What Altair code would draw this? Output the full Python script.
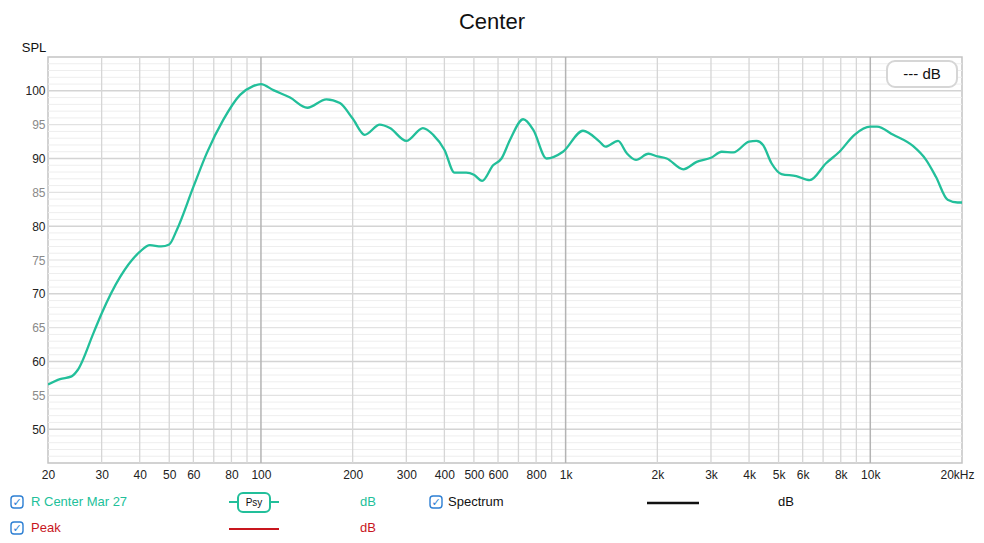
import altair as alt
import pandas as pd

# ---------------- data ----------------
freq_hz = [20, 21.9, 23.9, 25, 28.2, 30, 34.5, 40, 43.2, 47, 50, 52.9, 60, 66.4, 75.2, 85.4,
           94.2, 100, 109.8, 124.6, 142, 164, 181.6, 200, 219, 245.6, 265, 300, 340, 367.6,
           400, 432, 472, 500, 532, 578, 616, 656, 726, 784, 866, 980, 1140, 1292, 1352,
           1486, 1586, 1702, 1870, 2000, 2146, 2434, 2692, 3000, 3252, 3554, 4000, 4232,
           4446, 4740, 5112, 5716, 6326, 7160, 7920, 8872, 10000, 10520, 11900, 13800,
           15240, 16420, 17940, 19340, 20000]
spl_db = [56.6, 57.4, 57.8, 58.7, 64.2, 67.1, 72.5, 76.2, 77.2, 77.0, 77.3, 79.4, 85.8, 90.8,
          95.7, 99.4, 100.7, 101.0, 100.1, 99.0, 97.5, 98.75, 98.2, 95.9, 93.5, 95.0, 94.5,
          92.6, 94.5, 93.5, 91.3, 87.9, 87.9, 87.6, 86.7, 89.0, 90.0, 92.7, 95.8, 94.2, 90.0,
          91.0, 94.1, 92.5, 91.75, 92.6, 90.8, 89.8, 90.7, 90.3, 90.0, 88.4, 89.5, 90.1,
          91.0, 90.9, 92.5, 92.6, 92.0, 89.3, 87.7, 87.4, 86.8, 89.3, 91.0, 93.5, 94.7,
          94.7, 93.5, 91.85, 89.8, 87.3, 83.9, 83.5, 83.5]

x_tick_values = [20, 30, 40, 50, 60, 80, 100, 200, 300, 400, 500, 600, 800, 1000,
                 2000, 3000, 4000, 5000, 6000, 8000, 10000, 20000]
x_tick_labels = ["20", "30", "40", "50", "60", "80", "100", "200", "300", "400", "500",
                 "600", "800", "1k", "2k", "3k", "4k", "5k", "6k", "8k", "10k", "20kHz"]
x_grid_minor = [30, 40, 50, 60, 70, 80, 90, 200, 300, 400, 500, 600, 700, 800, 900,
                2000, 3000, 4000, 5000, 6000, 7000, 8000, 9000]
x_grid_major = [100, 1000, 10000]

y_tick_values = [50, 55, 60, 65, 70, 75, 80, 85, 90, 95, 100]
y_grid_ten = [50, 60, 70, 80, 90, 100]
y_grid_five = [55, 65, 75, 85, 95]
y_grid_fine = [v for v in range(46, 105) if v % 5 != 0]

title_text = "Center"
y_title_text = "SPL"
legend_series = ["R Center Mar 27", "Peak", "Spectrum"]
readout_text = "--- dB"

TEAL = "#22bf9a"
RED = "#c8161e"
BLUE = "#2d7fd3"
FONT = "Liberation Sans"

# ---------------- helpers ----------------
label_expr = "''"
for v, l in reversed(list(zip(x_tick_values, x_tick_labels))):
    label_expr = f"datum.value == {v} ? '{l}' : ({label_expr})"

x_scale = alt.Scale(type="log", domain=[20, 20000], nice=False)
y_scale = alt.Scale(domain=[45, 105], nice=False, zero=False)

x_axis = alt.Axis(values=x_tick_values, labelExpr=label_expr, grid=False, ticks=False,
                  domain=False, title=None, labelFontSize=12, labelColor="#222222",
                  labelFont=FONT, labelPadding=6, labelFlush=False, labelOverlap=False,
                  labelOffset={"condition": {"test": "datum.value == 20000", "value": -5},
                               "value": 0})
y_axis = alt.Axis(values=y_tick_values, grid=False, ticks=False, domain=False, title=None,
                  labelFontSize=12, labelFont=FONT, labelPadding=3, labelOverlap=False,
                  labelColor={"condition": {"test": "datum.value % 10 == 0", "value": "#222222"},
                              "value": "#8a8a8a"})

curve_df = pd.DataFrame({"freq": freq_hz, "spl": spl_db})
one = pd.DataFrame({"a": [0]})


def hrules(vals, color, width):
    return alt.Chart(pd.DataFrame({"spl": vals})).mark_rule(color=color, strokeWidth=width).encode(
        y=alt.Y("spl:Q", scale=y_scale, axis=y_axis))


def vrules(vals, color, width):
    return alt.Chart(pd.DataFrame({"freq": vals})).mark_rule(color=color, strokeWidth=width).encode(
        x=alt.X("freq:Q", scale=x_scale, axis=x_axis))


def txt(text, x, y, color="#111111", size=13, align="left", font=FONT):
    return alt.Chart(one).mark_text(text=text, align=align, baseline="middle", fontSize=size,
                                    color=color, font=font).encode(x=alt.value(x), y=alt.value(y))


def hline(x1, x2, y, color, width):
    return alt.Chart(one).mark_rule(color=color, strokeWidth=width).encode(
        x=alt.value(x1), x2=alt.value(x2), y=alt.value(y))


def box(x1, x2, y1, y2, stroke, width, radius):
    return alt.Chart(one).mark_rect(fill="white", stroke=stroke, strokeWidth=width,
                                    cornerRadius=radius).encode(
        x=alt.value(x1), x2=alt.value(x2), y=alt.value(y1), y2=alt.value(y2))


def checkbox(x, y):
    return box(x, x + 12, y, y + 12, BLUE, 1.4, 3) + txt("✓", x + 6, y + 6.5, BLUE, 11,
                                                         "center", "DejaVu Sans")


grid = (hrules(y_grid_fine, "#eeeeee", 1) + hrules(y_grid_five, "#e2e2e2", 1.2)
        + hrules(y_grid_ten, "#d4d4d4", 1.5) + vrules(x_grid_minor, "#d6d6d6", 1.3)
        + vrules(x_grid_major, "#b4b4b4", 1.5))

curve = alt.Chart(curve_df).mark_line(color=TEAL, strokeWidth=2.3, interpolate="monotone",
                                      clip=True).encode(
    x=alt.X("freq:Q", scale=x_scale, axis=x_axis),
    y=alt.Y("spl:Q", scale=y_scale, axis=y_axis))

# titles
titles = txt(title_text, 444, -35, "#111111", 22, "center") + txt(y_title_text, -14, -9, "#111111", 13, "center")

# readout box
readout = box(839, 909, 4, 30, "#d6d6d6", 2, 8) + txt(readout_text, 874, 17, "#111111", 15, "center")

# legend
legend = (
    checkbox(-37, 439) + txt(legend_series[0], -17, 445, TEAL, 13)
    + hline(181, 231, 445, TEAL, 2)
    + box(190, 222, 436, 455, TEAL, 2, 5) + txt("Psy", 206, 446, "#111111", 10, "center")
    + txt("dB", 320, 445, TEAL, 13, "center")
    + checkbox(382, 439) + txt(legend_series[2], 400, 445, "#111111", 13)
    + hline(599, 651, 446, "#111111", 2.5)
    + txt("dB", 738, 445, "#111111", 13, "center")
    + checkbox(-37, 465) + txt(legend_series[1], -17, 471, RED, 13)
    + hline(181, 231, 472, RED, 2)
    + txt("dB", 320, 471, RED, 13, "center")
)

chart = alt.layer(grid, curve, titles, readout, legend).properties(
    width=914, height=406, autosize="none",
    padding={"left": 40, "top": 49, "right": 14, "bottom": 72},
    background="white",
).configure_view(stroke="#c4c4c4", strokeWidth=1.5)

chart.save("out.html", embed_options={"renderer": "svg", "actions": False})
